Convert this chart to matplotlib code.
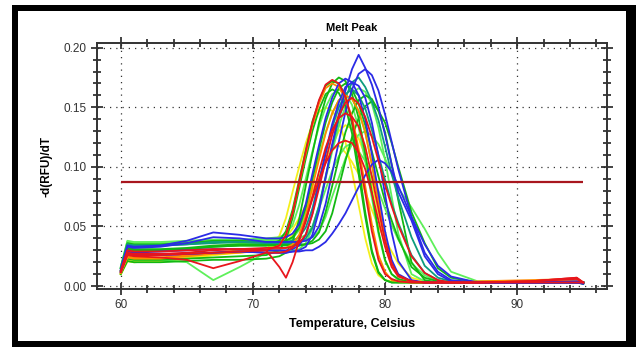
import matplotlib.pyplot as plt
from matplotlib.patches import Rectangle
from matplotlib.ticker import MultipleLocator

plt.rcParams['font.family'] = ['Liberation Sans', 'DejaVu Sans']

# temperature points (Celsius) shared by every well
temps = [60, 60.5, 61, 63, 65, 67, 69, 71,
         72, 72.5, 73, 73.5, 74, 74.5, 75, 75.5, 76, 76.5, 77, 77.5,
         78, 78.5, 79, 79.5, 80, 80.5, 81,
         82, 83, 84, 85, 87, 91, 94.5, 95]

# -d(RFU)/dT per well, grouped by trace colour
red_curves = [
    [0.012, 0.027, 0.026, 0.026, 0.027, 0.028, 0.029, 0.030, 0.034, 0.043, 0.061, 0.087, 0.113, 0.137, 0.156, 0.169, 0.173, 0.170, 0.159, 0.139, 0.110, 0.078, 0.046, 0.022, 0.010, 0.006, 0.004, 0.003, 0.003, 0.003, 0.003, 0.003, 0.004, 0.006, 0.003],
    [0.012, 0.026, 0.025, 0.024, 0.022, 0.015, 0.021, 0.028, 0.028, 0.029, 0.032, 0.039, 0.054, 0.075, 0.096, 0.116, 0.131, 0.141, 0.145, 0.142, 0.134, 0.117, 0.092, 0.065, 0.038, 0.019, 0.009, 0.004, 0.003, 0.003, 0.003, 0.003, 0.004, 0.007, 0.003],
    [0.013, 0.030, 0.029, 0.029, 0.030, 0.031, 0.031, 0.030, 0.016, 0.007, 0.020, 0.038, 0.056, 0.073, 0.089, 0.103, 0.114, 0.120, 0.122, 0.120, 0.112, 0.098, 0.078, 0.055, 0.033, 0.016, 0.008, 0.004, 0.003, 0.003, 0.003, 0.003, 0.003, 0.003, 0.003],
    [0.012, 0.028, 0.027, 0.027, 0.028, 0.030, 0.031, 0.032, 0.032, 0.032, 0.033, 0.036, 0.043, 0.060, 0.082, 0.105, 0.127, 0.143, 0.154, 0.158, 0.153, 0.142, 0.125, 0.105, 0.085, 0.067, 0.051, 0.025, 0.011, 0.005, 0.003, 0.003, 0.004, 0.007, 0.003],
]
orange_curves = [
    [0.011, 0.024, 0.023, 0.023, 0.025, 0.027, 0.028, 0.030, 0.034, 0.043, 0.061, 0.086, 0.111, 0.135, 0.153, 0.166, 0.170, 0.167, 0.157, 0.142, 0.115, 0.084, 0.052, 0.026, 0.012, 0.005, 0.004, 0.003, 0.003, 0.003, 0.003, 0.003, 0.003, 0.005, 0.003],
    [0.011, 0.025, 0.024, 0.024, 0.026, 0.028, 0.030, 0.031, 0.031, 0.032, 0.035, 0.043, 0.059, 0.083, 0.106, 0.128, 0.145, 0.156, 0.160, 0.157, 0.147, 0.129, 0.102, 0.072, 0.042, 0.020, 0.009, 0.004, 0.003, 0.003, 0.003, 0.004, 0.005, 0.006, 0.003],
]
green_curves = [
    [0.013, 0.031, 0.030, 0.030, 0.031, 0.033, 0.034, 0.034, 0.038, 0.046, 0.064, 0.089, 0.114, 0.138, 0.155, 0.168, 0.172, 0.170, 0.160, 0.136, 0.100, 0.062, 0.030, 0.012, 0.005, 0.003, 0.003, 0.003, 0.003, 0.003, 0.003, 0.003, 0.003, 0.004, 0.002],
    [0.015, 0.036, 0.035, 0.035, 0.036, 0.038, 0.038, 0.037, 0.037, 0.038, 0.041, 0.049, 0.066, 0.090, 0.114, 0.137, 0.154, 0.166, 0.170, 0.165, 0.153, 0.135, 0.113, 0.092, 0.071, 0.055, 0.040, 0.016, 0.007, 0.004, 0.003, 0.003, 0.003, 0.004, 0.003],
    [0.013, 0.031, 0.030, 0.030, 0.031, 0.033, 0.034, 0.034, 0.034, 0.034, 0.034, 0.034, 0.035, 0.038, 0.045, 0.062, 0.084, 0.107, 0.129, 0.145, 0.156, 0.160, 0.157, 0.147, 0.129, 0.102, 0.072, 0.020, 0.005, 0.003, 0.003, 0.003, 0.003, 0.004, 0.003],
    [0.013, 0.032, 0.031, 0.031, 0.032, 0.034, 0.035, 0.035, 0.035, 0.035, 0.035, 0.035, 0.035, 0.036, 0.039, 0.046, 0.061, 0.083, 0.105, 0.125, 0.141, 0.151, 0.155, 0.147, 0.137, 0.120, 0.100, 0.062, 0.036, 0.015, 0.007, 0.003, 0.003, 0.004, 0.003],
    [0.010, 0.021, 0.020, 0.020, 0.021, 0.022, 0.022, 0.023, 0.025, 0.028, 0.037, 0.056, 0.084, 0.111, 0.137, 0.157, 0.170, 0.175, 0.172, 0.161, 0.141, 0.111, 0.079, 0.046, 0.022, 0.010, 0.006, 0.003, 0.003, 0.003, 0.003, 0.003, 0.003, 0.003, 0.002],
    [0.011, 0.023, 0.022, 0.022, 0.023, 0.024, 0.025, 0.026, 0.030, 0.039, 0.057, 0.082, 0.107, 0.130, 0.148, 0.161, 0.165, 0.162, 0.151, 0.128, 0.094, 0.058, 0.028, 0.011, 0.005, 0.003, 0.003, 0.003, 0.003, 0.003, 0.003, 0.003, 0.003, 0.003, 0.002],
]
lime_curves = [
    [0.016, 0.038, 0.037, 0.037, 0.038, 0.039, 0.039, 0.040, 0.041, 0.044, 0.051, 0.068, 0.090, 0.113, 0.134, 0.150, 0.161, 0.165, 0.162, 0.152, 0.133, 0.105, 0.074, 0.044, 0.021, 0.010, 0.005, 0.003, 0.003, 0.003, 0.003, 0.003, 0.003, 0.004, 0.003],
    [0.016, 0.037, 0.036, 0.036, 0.037, 0.037, 0.038, 0.039, 0.039, 0.039, 0.039, 0.040, 0.043, 0.050, 0.067, 0.090, 0.113, 0.134, 0.151, 0.162, 0.166, 0.163, 0.153, 0.133, 0.106, 0.075, 0.044, 0.010, 0.004, 0.003, 0.003, 0.003, 0.003, 0.004, 0.003],
    [0.011, 0.023, 0.022, 0.022, 0.020, 0.005, 0.016, 0.028, 0.029, 0.029, 0.030, 0.031, 0.036, 0.048, 0.065, 0.081, 0.097, 0.109, 0.117, 0.120, 0.113, 0.105, 0.092, 0.080, 0.065, 0.051, 0.039, 0.019, 0.009, 0.004, 0.003, 0.003, 0.003, 0.004, 0.003],
    [0.015, 0.036, 0.035, 0.035, 0.036, 0.037, 0.036, 0.036, 0.036, 0.037, 0.040, 0.047, 0.063, 0.086, 0.108, 0.129, 0.145, 0.156, 0.160, 0.157, 0.147, 0.129, 0.102, 0.072, 0.042, 0.020, 0.009, 0.004, 0.003, 0.003, 0.003, 0.003, 0.003, 0.004, 0.003],
    [0.016, 0.037, 0.036, 0.036, 0.037, 0.038, 0.038, 0.038, 0.038, 0.038, 0.038, 0.038, 0.039, 0.041, 0.046, 0.058, 0.075, 0.091, 0.107, 0.119, 0.127, 0.130, 0.126, 0.119, 0.107, 0.094, 0.082, 0.066, 0.048, 0.028, 0.012, 0.004, 0.004, 0.005, 0.003],
]
yellow_curves = [
    [0.010, 0.021, 0.020, 0.021, 0.023, 0.026, 0.028, 0.031, 0.042, 0.057, 0.079, 0.100, 0.120, 0.136, 0.146, 0.150, 0.147, 0.138, 0.121, 0.096, 0.068, 0.040, 0.019, 0.009, 0.005, 0.004, 0.003, 0.003, 0.003, 0.003, 0.003, 0.003, 0.003, 0.004, 0.003],
    [0.010, 0.021, 0.020, 0.021, 0.023, 0.026, 0.029, 0.031, 0.034, 0.037, 0.043, 0.052, 0.062, 0.075, 0.089, 0.104, 0.118, 0.130, 0.135, 0.132, 0.124, 0.109, 0.086, 0.061, 0.036, 0.018, 0.008, 0.004, 0.003, 0.003, 0.003, 0.003, 0.003, 0.003, 0.002],
    [0.010, 0.022, 0.021, 0.022, 0.024, 0.027, 0.029, 0.031, 0.036, 0.041, 0.048, 0.057, 0.068, 0.080, 0.092, 0.104, 0.114, 0.118, 0.112, 0.104, 0.094, 0.079, 0.064, 0.050, 0.039, 0.029, 0.019, 0.007, 0.004, 0.003, 0.003, 0.003, 0.003, 0.003, 0.003],
]
teal_curves = [
    [0.015, 0.035, 0.034, 0.034, 0.035, 0.036, 0.037, 0.037, 0.037, 0.037, 0.038, 0.041, 0.049, 0.065, 0.088, 0.111, 0.133, 0.150, 0.161, 0.165, 0.160, 0.149, 0.131, 0.110, 0.089, 0.069, 0.053, 0.026, 0.011, 0.005, 0.003, 0.003, 0.003, 0.003, 0.003],
    [0.015, 0.035, 0.034, 0.034, 0.035, 0.037, 0.037, 0.036, 0.036, 0.036, 0.036, 0.037, 0.040, 0.049, 0.067, 0.092, 0.117, 0.140, 0.158, 0.171, 0.175, 0.167, 0.155, 0.139, 0.117, 0.094, 0.074, 0.041, 0.017, 0.007, 0.004, 0.003, 0.003, 0.003, 0.003],
]
blue_curves = [
    [0.014, 0.034, 0.033, 0.034, 0.038, 0.045, 0.043, 0.040, 0.040, 0.041, 0.044, 0.052, 0.069, 0.094, 0.118, 0.141, 0.158, 0.170, 0.174, 0.171, 0.160, 0.140, 0.111, 0.078, 0.046, 0.022, 0.010, 0.004, 0.003, 0.003, 0.003, 0.003, 0.003, 0.004, 0.003],
    [0.012, 0.027, 0.026, 0.026, 0.027, 0.028, 0.029, 0.028, 0.028, 0.028, 0.029, 0.030, 0.033, 0.043, 0.063, 0.091, 0.119, 0.144, 0.164, 0.182, 0.194, 0.183, 0.169, 0.150, 0.127, 0.102, 0.079, 0.055, 0.025, 0.010, 0.004, 0.003, 0.003, 0.003, 0.002],
    [0.013, 0.033, 0.032, 0.033, 0.036, 0.041, 0.040, 0.037, 0.037, 0.037, 0.037, 0.037, 0.038, 0.041, 0.050, 0.069, 0.095, 0.121, 0.146, 0.165, 0.178, 0.182, 0.177, 0.164, 0.144, 0.121, 0.098, 0.058, 0.028, 0.012, 0.005, 0.003, 0.003, 0.003, 0.003],
    [0.012, 0.027, 0.026, 0.026, 0.027, 0.028, 0.029, 0.028, 0.028, 0.028, 0.029, 0.029, 0.030, 0.030, 0.033, 0.037, 0.044, 0.052, 0.061, 0.072, 0.083, 0.093, 0.102, 0.106, 0.103, 0.096, 0.084, 0.058, 0.035, 0.017, 0.008, 0.003, 0.003, 0.003, 0.003],
    [0.013, 0.029, 0.028, 0.029, 0.030, 0.031, 0.031, 0.030, 0.030, 0.030, 0.031, 0.034, 0.043, 0.061, 0.086, 0.112, 0.136, 0.154, 0.167, 0.171, 0.168, 0.158, 0.137, 0.109, 0.077, 0.045, 0.021, 0.005, 0.003, 0.003, 0.003, 0.003, 0.003, 0.003, 0.002],
]

threshold = 0.0875
threshold_from, threshold_to = 60, 95

fig = plt.figure(figsize=(6.36, 3.47), dpi=100)
ax = fig.add_axes([0.1525, 0.167, 0.802, 0.709])

groups = [
    (yellow_curves, '#f4ef1c'),
    (lime_curves, '#5ef05a'),
    (green_curves, '#12b812'),
    (teal_curves, '#0e9c7e'),
    (orange_curves, '#ff8a00'),
    (blue_curves, '#2b2be6'),
    (red_curves, '#e8161c'),
]
for curves, color in groups:
    for values in curves:
        ax.plot(temps, values, color=color, lw=1.3, solid_joinstyle='round')

ax.hlines(threshold, threshold_from, threshold_to, color='#a8161e', lw=1.6, zorder=5)

ax.set_xlim(58.2, 96.8)
ax.set_ylim(-0.0025, 0.2039)
ax.xaxis.set_major_locator(MultipleLocator(10))
ax.xaxis.set_minor_locator(MultipleLocator(2))
ax.yaxis.set_major_locator(MultipleLocator(0.05))
ax.yaxis.set_minor_locator(MultipleLocator(0.01))
ax.yaxis.set_major_formatter(lambda v, p: f'{v:.2f}')
ax.tick_params(which='both', direction='inout', top=True, right=True,
               colors='#222222', labelcolor='#333333', labelsize=8.5, width=1.2)
ax.tick_params(which='major', length=9, pad=3)
ax.tick_params(which='minor', length=6)
ax.grid(True, which='major', color='#333333', linestyle=(0, (1, 4)), lw=0.9)
for s in ax.spines.values():
    s.set_linewidth(1.4)
    s.set_color('#333333')

ax.set_title('Melt Peak', fontsize=8, fontweight='bold', pad=9)
ax.set_xlabel('Temperature, Celsius', fontsize=9, fontweight='bold', labelpad=5)
ax.set_ylabel('-d(RFU)/dT', fontsize=8.5, fontweight='bold', labelpad=8)

# black picture frame around the whole screenshot
W, H = 636, 347
for x0, y0, x1, y1 in [(12, 5, 18, 347), (12, 5, 636, 11), (626, 5, 636, 347), (12, 341, 636, 347)]:
    fig.add_artist(Rectangle((x0 / W, 1 - y1 / H), (x1 - x0) / W, (y1 - y0) / H,
                             transform=fig.transFigure, color='black', lw=0))

fig.savefig('out.png', dpi=100)
